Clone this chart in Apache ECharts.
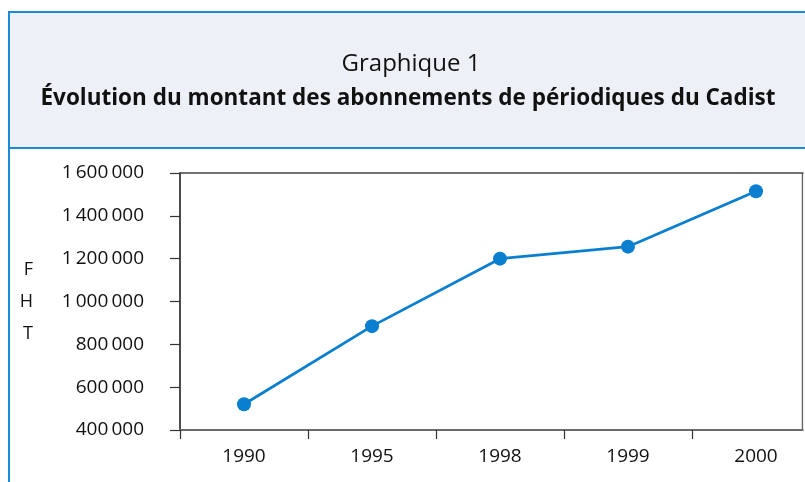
<!DOCTYPE html>
<html>
<head>
<meta charset="utf-8">
<script src="https://cdn.jsdelivr.net/npm/echarts@6/dist/echarts.min.js"></script>
<style>
html,body{margin:0;padding:0;background:#fff;}
#c{width:805px;height:482px;}
</style>
</head>
<body>
<div id="c"></div>
<script>
const titleTop = 'Graphique 1';
const titleMain = 'Évolution du montant des abonnements de périodiques du Cadist';
const yAxisName = 'F\nH\nT';
const years = ['1990', '1995', '1998', '1999', '2000'];
const amounts = [520000, 885000, 1200000, 1256000, 1515000];
const yMin = 400000, yMax = 1600000, yStep = 200000;

function fmt(v) {
  return String(v).replace(/\B(?=(\d{3})+(?!\d))/g, '\u2009');
}

const FONT = '"Open Sans", "Noto Sans", sans-serif';
const chart = echarts.init(document.getElementById('c'), null, {renderer: 'canvas'});
chart.setOption({
  backgroundColor: '#ffffff',
  animation: false,
  graphic: [
    {type: 'rect', z: 0, shape: {x: 9, y: 12, width: 820, height: 136},
     style: {fill: '#edf0f7', stroke: '#1b8ad8', lineWidth: 2}},
    {type: 'line', z: 0, shape: {x1: 9, y1: 148, x2: 9, y2: 482},
     style: {stroke: '#1b8ad8', lineWidth: 2}},
    {type: 'line', z: 0, shape: {x1: 802.5, y1: 173, x2: 802.5, y2: 430},
     style: {stroke: '#666', lineWidth: 1.5}},
    {type: 'rect', z: 1, shape: {x: 803.5, y: 150, width: 10, height: 332},
     style: {fill: '#ffffff'}},
    {type: 'text', x: 411, y: 52, z: 5,
     style: {text: titleTop, font: '24px ' + FONT, fill: '#111', textAlign: 'center'}},
    {type: 'text', x: 408, y: 87, z: 5,
     style: {text: titleMain, font: 'bold 22.5px ' + FONT, fill: '#111', textAlign: 'center'}}
  ],
  grid: {left: 180, width: 640, top: 173, bottom: 52, outerBoundsMode: 'none', containLabel: false},
  xAxis: [{
    type: 'category',
    data: years,
    boundaryGap: true,
    axisLine: {show: true, lineStyle: {color: '#6b6b6b', width: 2}},
    axisTick: {show: true, length: 9, lineStyle: {color: '#333', width: 1.2}},
    axisLabel: {color: '#111', fontSize: 19, fontFamily: FONT, margin: 17},
    splitLine: {show: false}
  }, {
    type: 'category',
    data: years,
    position: 'top',
    axisLine: {show: true, lineStyle: {color: '#444', width: 1.5}},
    axisTick: {show: false},
    axisLabel: {show: false}
  }],
  yAxis: {
    type: 'value',
    min: yMin, max: yMax, interval: yStep,
    name: yAxisName,
    nameLocation: 'middle',
    nameRotate: 0,
    nameGap: 147,
    nameTextStyle: {color: '#111', fontSize: 18, fontFamily: FONT, lineHeight: 32, padding: [4, 0, 0, 0]},
    axisLine: {show: true, lineStyle: {color: '#111', width: 1.5}},
    axisTick: {show: true, length: 10, lineStyle: {color: '#333', width: 1.2}},
    axisLabel: {color: '#111', fontSize: 19, fontFamily: FONT, margin: 36, formatter: fmt},
    splitLine: {show: false}
  },
  series: [{
    type: 'line',
    data: amounts,
    symbol: 'circle',
    symbolSize: 14,
    lineStyle: {color: '#0a7fcf', width: 2.8},
    itemStyle: {color: '#0a7fcf'}
  }]
});
</script>
</body>
</html>
